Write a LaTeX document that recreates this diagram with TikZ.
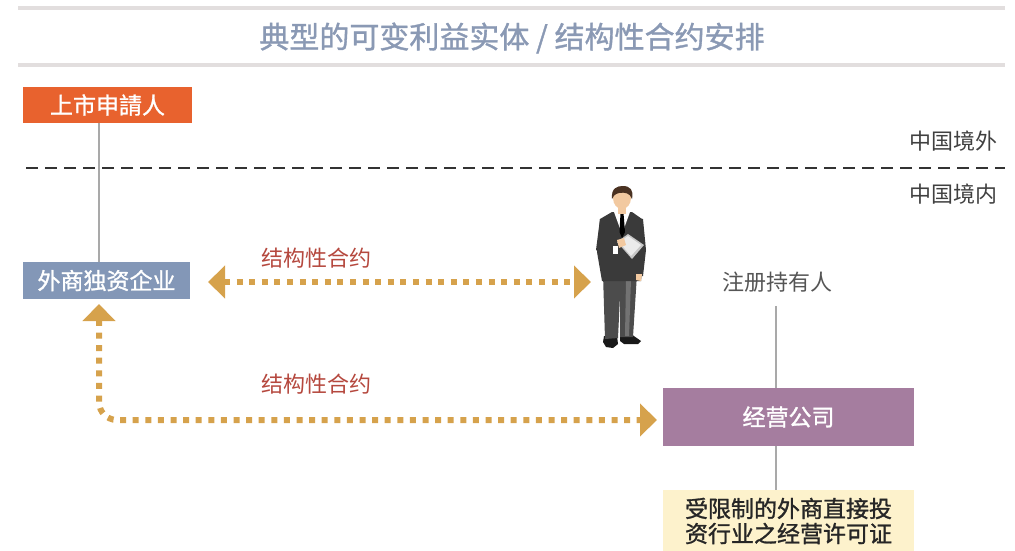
\documentclass[tikz,border=0pt]{standalone}
\usepackage{fontspec}
\setmainfont{Noto Sans CJK SC}
\newfontfamily\cjkmed[FakeBold=1.2]{Noto Sans CJK SC}
\usetikzlibrary{arrows.meta}

\definecolor{rulegray}{HTML}{E2DEDE}
\definecolor{titleblue}{HTML}{8A99B4}
\definecolor{listorange}{HTML}{E8622E}
\definecolor{wfoeblue}{HTML}{8397B7}
\definecolor{opcpurple}{HTML}{A57D9F}
\definecolor{licyellow}{HTML}{FDF2CC}
\definecolor{contractgold}{HTML}{D6A24C}
\definecolor{contractred}{HTML}{B5483E}
\definecolor{linkgray}{HTML}{A9A9A9}
\definecolor{labelgray}{HTML}{555555}
\definecolor{suit}{HTML}{3A3A3A}
\definecolor{trousers}{HTML}{4C4C4C}
\definecolor{skin}{HTML}{F2C9A0}
\definecolor{hair}{HTML}{4A3222}

\newcommand\setfs[1]{\fontsize{#1}{#1}\selectfont}

\tikzset{
  entity/.style={rectangle, inner sep=0pt, text=white, font=\setfs{23}\cjkmed},
  link/.style={draw=linkgray, line width=2pt},
  contract/.style={draw=contractgold, line width=6pt, dash pattern=on 6pt off 6.6pt,
    {Triangle[length=17pt,width=32pt,fill=contractgold]}-{Triangle[length=17pt,width=32pt,fill=contractgold]}},
  contractlabel/.style={text=contractred, font=\setfs{22}},
  zonelabel/.style={text=black!75, font=\setfs{22}, anchor=east},
}

\begin{document}
\begin{tikzpicture}[x=1pt,y=-1pt]
\useasboundingbox (0,0) rectangle (1015,551);

% title between two rules
\fill[rulegray] (18,6.5) rectangle (1005,10.5);
\fill[rulegray] (18,63) rectangle (1005,67);
\node[text=titleblue, font=\setfs{30}\cjkmed] (title) at (512,38) {典型的可变利益实体 / 结构性合约安排};

% offshore / onshore border
\coordinate (borderL) at (26,168);
\coordinate (borderR) at (1005,168);
\draw[black!80, line width=2pt, dash pattern=on 12pt off 7pt] (borderL) -- (borderR);
\node[zonelabel] (offshore) at (1001,141) {中国境外};
\node[zonelabel] (onshore) at (1001,194) {中国境内};

% entities
\node[entity, fill=listorange, minimum width=169pt, minimum height=36pt] (listco) at (107.5,105) {上市申請人};
\node[entity, fill=wfoeblue, minimum width=167pt, minimum height=37pt] (wfoe) at (106.5,280.5) {外商独资企业};
\node[text=labelgray, font=\setfs{22}] (holder) at (777,282) {注册持有人};
\node[entity, fill=opcpurple, minimum width=251pt, minimum height=58pt] (opco) at (788.5,417) {经营公司};
\node[fill=licyellow, inner sep=0pt, minimum width=251pt, minimum height=62pt,
      text=black!85, font=\setfs{23}\cjkmed, align=center] (licence) at (788.5,521)
      {受限制的外商直接投\\[2pt]资行业之经营许可证};

% ownership links
\draw[link] (listco.south -| 99,0) -- (wfoe.north -| 99,0);
\draw[link] (holder.south -| 776,0) ++(0,10) -- (opco.north -| 776,0);
\draw[link] (opco.south -| 776,0) -- (licence.north -| 776,0);

% nominee shareholder figure
\node[minimum width=52pt, minimum height=162pt, inner sep=0pt] (person) at (620,267) {};
% shoes
\fill[black!90] (604,336) -- (617,336) -- (618,344) -- (613,348) -- (606,347) -- (603,342) -- cycle;
\fill[black!90] (620,334) -- (631,334) -- (641,341) -- (638,344) -- (624,344) -- (620,341) -- cycle;
% trousers
\fill[trousers] (603,274) -- (637,274) -- (633,337) -- (620,337) -- (620,296) -- (618,338) -- (605,339) -- cycle;
\fill[black!55] (626,280) -- (631,280) -- (629,336) -- (625,336) -- cycle;
% jacket body
\fill[suit] (600,219) -- (612,212) -- (632,212) -- (642,219) -- (644,252) -- (641,281) -- (602,281) -- (597,252) -- cycle;
% viewer-right arm hanging
\fill[suit] (636,218) -- (643,219) -- (646,250) -- (643,276) -- (637,276) -- (638,250) -- cycle;
\fill[skin] (636,274) -- (642,274) -- (641,281) -- (636,280) -- cycle;
% viewer-left arm bent across the chest
\fill[suit] (600,219) -- (606,221) -- (607,245) -- (616,247) -- (616,254) -- (602,254) -- (596,250) -- cycle;
\fill[white] (613,246) -- (618,246) -- (618,254) -- (613,254) -- cycle;
% tablet
\fill[black!22] (617,242) -- (628,234) -- (644,245) -- (632,259) -- cycle;
\fill[white!92!black] (619,242) -- (628,236) -- (641,245) -- (631,256) -- cycle;
\fill[skin] (617,240) -- (624,238) -- (626,245) -- (619,248) -- cycle;
% shirt collar and tie
\fill[white] (614,212) -- (630,212) -- (622,234) -- cycle;
\fill[black] (620.5,213) -- (623.5,213) -- (625,232) -- (622,238) -- (619.5,232) -- cycle;
% neck and head
\fill[skin] (618,204) rectangle (626,214);
\fill[skin] (622,198) ellipse [x radius=9pt, y radius=11pt];
\fill[hair] (612,199) .. controls (611,188) and (617,186) .. (623,186)
  .. controls (630,186) and (634,190) .. (632,199)
  .. controls (630,193) and (625,192) .. (619,193)
  .. controls (615,194) and (613,196) .. (612,199) -- cycle;

% structural contracts
\coordinate (c1end) at (591,282);
\draw[contract] (wfoe.east -| 208,0) ++(0,1.5) -- (c1end);
\node[contractlabel] (lab1) at (316,258) {结构性合约};

\coordinate (c2start) at (99,304);
\coordinate (c2end) at (657,420);
\draw[contract, rounded corners=18pt] (c2start) |- (c2end);
\node[contractlabel] (lab2) at (316,384) {结构性合约};
\end{tikzpicture}
\end{document}
